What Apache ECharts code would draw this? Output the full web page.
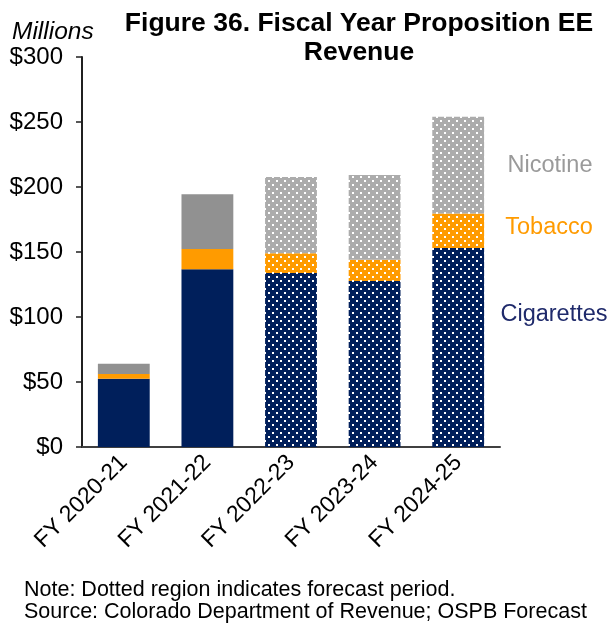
<!DOCTYPE html>
<html>
<head>
<meta charset="utf-8">
<script src="https://cdn.jsdelivr.net/npm/echarts@6/dist/echarts.min.js"></script>
<style>
  html, body { margin: 0; padding: 0; background: #fff; }
  #chart { width: 610px; height: 627px; }
</style>
</head>
<body>
<div id="chart"></div>
<script>
// Fiscal years on the category axis
const years = ['FY 2020-21', 'FY 2021-22', 'FY 2022-23', 'FY 2023-24', 'FY 2024-25'];
// Revenue by product, $ millions
const cigarettes = [52.5, 136.7, 133.8, 127.7, 153.1];
const tobacco = [3.6, 15.6, 15.2, 16.4, 26.6];
const nicotine = [8.0, 42.1, 58.7, 65.1, 74.4];
// Forecast years are drawn with a dotted fill
const forecast = [false, false, true, true, true];
// Value axis ticks
const yTicks = [0, 50, 100, 150, 200, 250, 300];

const FONT = 'Liberation Sans, Arial, sans-serif';
const NAVY = '#001F5B';
const ORANGE = '#FF9B00';
const GRAY_ACT = '#919191';
const GRAY_FC = '#ACACAC';

// Tile with white dots laid over a base colour
function dotted(base) {
  const c = document.createElement('canvas');
  c.width = 8; c.height = 8;
  const g = c.getContext('2d');
  g.fillStyle = base;
  g.fillRect(0, 0, 8, 8);
  g.fillStyle = '#ffffff';
  g.fillRect(0, 0, 2, 2);
  g.fillRect(4, 4, 2, 2);
  return { image: c, repeat: 'repeat' };
}

function items(values, actualColor, forecastColor) {
  return values.map((v, i) => ({
    value: v,
    itemStyle: forecast[i]
      ? { color: dotted(forecastColor), borderWidth: 0 }
      : { color: actualColor }
  }));
}

const chart = echarts.init(document.getElementById('chart'));

const barCommon = { type: 'bar', stack: 'rev', barCategoryGap: '38%', animation: false };

chart.setOption({
  animation: false,
  title: {
    text: 'Figure 36. Fiscal Year Proposition EE\nRevenue',
    left: 354,
    top: 4,
    textAlign: 'center',
    textStyle: {
      fontFamily: FONT,
      fontWeight: 'bold',
      fontSize: 26.5,
      lineHeight: 29,
      color: '#000'
    }
  },
  grid: { left: 82, right: 110, top: 57, bottom: 180, containLabel: false },
  xAxis: {
    type: 'category',
    data: years,
    axisLine: { lineStyle: { color: '#404040', width: 2 } },
    axisTick: { show: false },
    axisLabel: {
      rotate: 45,
      margin: 12,
      fontSize: 23,
      fontFamily: FONT,
      color: '#000',
      interval: 0
    }
  },
  yAxis: {
    type: 'value',
    min: yTicks[0],
    max: yTicks[yTicks.length - 1],
    interval: yTicks[1] - yTicks[0],
    splitLine: { show: false },
    axisLine: { show: true, lineStyle: { color: '#202020', width: 2 } },
    axisTick: { show: true, inside: false, length: 6, lineStyle: { color: '#202020', width: 1.5 } },
    axisLabel: {
      margin: 19,
      fontSize: 24,
      fontFamily: FONT,
      color: '#000',
      formatter: v => '$' + v
    }
  },
  series: [
    Object.assign({ name: 'Cigarettes', data: items(cigarettes, NAVY, NAVY) }, barCommon),
    Object.assign({ name: 'Tobacco', data: items(tobacco, ORANGE, ORANGE) }, barCommon),
    Object.assign({ name: 'Nicotine', data: items(nicotine, GRAY_ACT, GRAY_FC) }, barCommon)
  ],
  graphic: [
    {
      type: 'text', x: 12, y: 32,
      style: { text: 'Millions', fontSize: 24.5, fontStyle: 'italic', fontFamily: FONT, fill: '#000', verticalAlign: 'middle' }
    },
    {
      type: 'text', x: 550, y: 166,
      style: { text: 'Nicotine', fontSize: 23.5, fontFamily: FONT, fill: '#9A9A9A', align: 'center', verticalAlign: 'middle' }
    },
    {
      type: 'text', x: 549, y: 228,
      style: { text: 'Tobacco', fontSize: 23.5, fontFamily: FONT, fill: '#FF9B00', align: 'center', verticalAlign: 'middle' }
    },
    {
      type: 'text', x: 554, y: 315,
      style: { text: 'Cigarettes', fontSize: 23.5, fontFamily: FONT, fill: '#1F2A6B', align: 'center', verticalAlign: 'middle' }
    },
    {
      type: 'text', x: 24, y: 579,
      style: {
        text: 'Note: Dotted region indicates forecast period.\nSource: Colorado Department of Revenue; OSPB Forecast',
        fontSize: 21.5, lineHeight: 22, fontFamily: FONT, fill: '#000'
      }
    }
  ]
});
</script>
</body>
</html>
